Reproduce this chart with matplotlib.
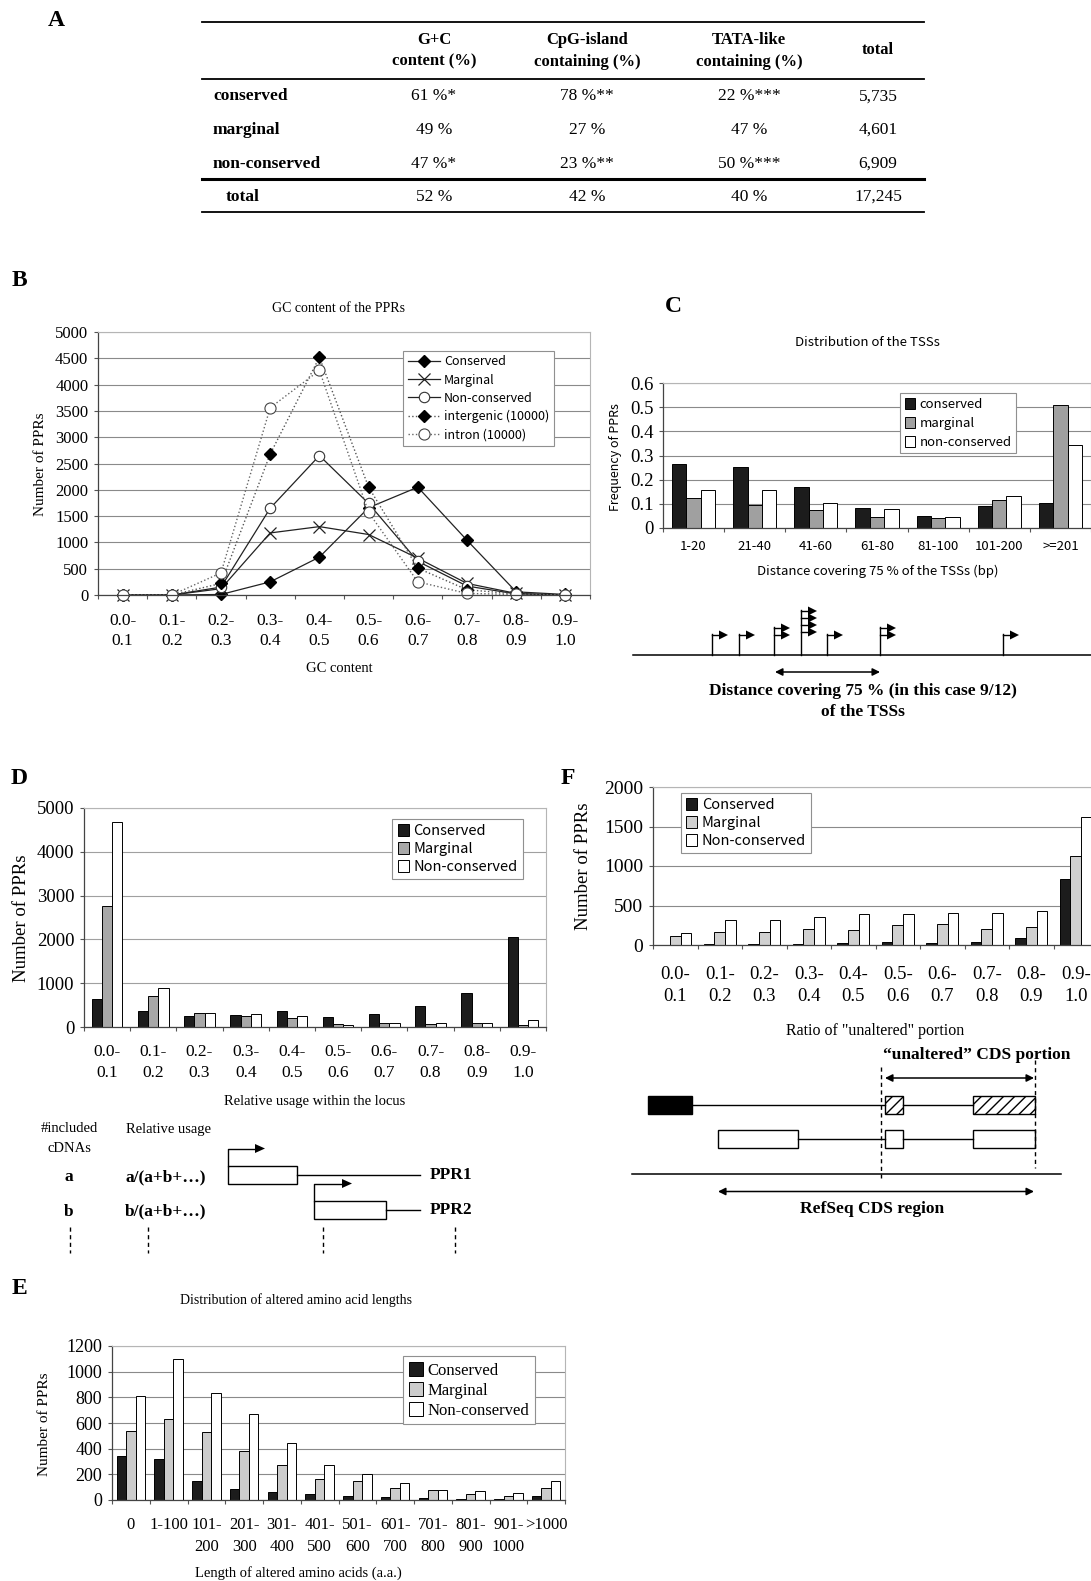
import matplotlib
matplotlib.use("Agg")
import matplotlib.pyplot as plt
from matplotlib.patches import Rectangle, Polygon
import numpy as np

plt.rcParams["hatch.linewidth"] = 1.0

W, H = 1091, 1581
SERIF = ["Liberation Serif", "DejaVu Serif"]
GOTH = ["Noto Sans CJK JP", "DejaVu Sans"]

# ---------------- data ----------------
# A: summary table
tab_header = ["G+C\ncontent (%)", "CpG-island\ncontaining (%)", "TATA-like\ncontaining (%)", "total"]
tab_rows = ["conserved", "marginal", "non-conserved", "total"]
tab_gc = ["61 %*", "49 %", "47 %*", "52 %"]
tab_cpg = ["78 %**", "27 %", "23 %**", "42 %"]
tab_tata = ["22 %***", "47 %", "50 %***", "40 %"]
tab_total = ["5,735", "4,601", "6,909", "17,245"]

# B: GC content
gc_bins = ["0.0-\n0.1", "0.1-\n0.2", "0.2-\n0.3", "0.3-\n0.4", "0.4-\n0.5",
           "0.5-\n0.6", "0.6-\n0.7", "0.7-\n0.8", "0.8-\n0.9", "0.9-\n1.0"]
gc_conserved = [0, 0, 10, 250, 720, 1660, 2050, 1040, 60, 10]
gc_marginal = [0, 0, 120, 1180, 1300, 1150, 700, 220, 30, 0]
gc_nonconserved = [0, 0, 150, 1650, 2650, 1740, 640, 170, 20, 0]
gc_intergenic = [0, 0, 220, 2680, 4520, 2050, 510, 100, 20, 0]
gc_intron = [0, 0, 420, 3560, 4270, 1570, 250, 30, 10, 0]

# C: TSS distribution
tss_bins = ["1-20", "21-40", "41-60", "61-80", "81-100", "101-200", ">=201"]
tss_conserved = [0.265, 0.253, 0.168, 0.083, 0.048, 0.093, 0.105]
tss_marginal = [0.125, 0.097, 0.075, 0.045, 0.043, 0.115, 0.508]
tss_nonconserved = [0.158, 0.158, 0.102, 0.078, 0.046, 0.132, 0.342]

# D: relative usage
ru_bins = gc_bins
ru_conserved = [650, 360, 250, 270, 360, 230, 290, 480, 770, 2060]
ru_marginal = [2760, 700, 310, 250, 200, 70, 80, 60, 80, 40]
ru_nonconserved = [4670, 880, 330, 290, 250, 50, 80, 80, 80, 170]

# F: ratio of unaltered portion
ua_bins = gc_bins
ua_conserved = [0, 10, 10, 10, 30, 40, 30, 40, 90, 830]
ua_marginal = [110, 170, 170, 200, 190, 250, 260, 200, 230, 1130]
ua_nonconserved = [150, 320, 320, 350, 390, 390, 410, 410, 430, 1620]

# E: altered amino acid lengths
aa_bins = ["0", "1-100", "101-\n200", "201-\n300", "301-\n400", "401-\n500", "501-\n600",
           "601-\n700", "701-\n800", "801-\n900", "901-\n1000", ">1000"]
aa_conserved = [340, 320, 150, 85, 65, 45, 30, 25, 15, 8, 8, 35]
aa_marginal = [540, 630, 530, 380, 270, 165, 145, 90, 75, 50, 30, 95]
aa_nonconserved = [810, 1100, 830, 670, 445, 270, 200, 135, 80, 70, 55, 145]

series_names = ["Conserved", "Marginal", "Non-conserved"]

fig = plt.figure(figsize=(W / 100, H / 100), dpi=100)


def add_ax(l, t, r, b):
    return fig.add_axes([l / W, 1 - b / H, (r - l) / W, (b - t) / H])


def frame(ax, cats, ymax, ystep, yfmt, yfont, yfs, xfont, xfs, xpad, lsp=1.4, grid="#8a8a8a"):
    n = len(cats)
    ax.set_xlim(-0.5, n - 0.5)
    ax.set_ylim(0, ymax)
    yt = np.arange(0, ymax + ystep / 2, ystep)
    ax.set_yticks(yt, labels=[yfmt(v) for v in yt], fontfamily=yfont, fontsize=yfs)
    ax.set_xticks(np.arange(n), labels=cats, fontfamily=xfont, fontsize=xfs, linespacing=lsp)
    ax.set_xticks(np.arange(n + 1) - 0.5, minor=True)
    ax.tick_params(axis="x", which="major", length=0, pad=xpad)
    ax.tick_params(axis="x", which="minor", length=3, width=0.8, color="#555555")
    ax.tick_params(axis="y", length=3, width=0.8, pad=4, color="#555555")
    ax.grid(axis="y", color=grid, lw=0.8)
    ax.set_axisbelow(True)
    for s in ("top", "right"):
        ax.spines[s].set_color("#b5b5b5")
        ax.spines[s].set_linewidth(0.8)
    for s in ("left", "bottom"):
        ax.spines[s].set_color("#444444")
        ax.spines[s].set_linewidth(0.9)


def bars(ax, data, colors, width):
    x = np.arange(len(data[0]))
    for i, (vals, c, name) in enumerate(zip(data, colors, series_names)):
        ax.bar(x + (i - 1) * width, vals, width, color=c, edgecolor="black",
               linewidth=0.7, label=name)


def legend(ax, loc, anchor, font, fs, labels=None, **kw):
    h, l = ax.get_legend_handles_labels()
    if labels is not None:
        l = labels
    opts = dict(frameon=True, fancybox=False, edgecolor="#909090", framealpha=1,
                borderpad=0.35, handletextpad=0.3, labelspacing=0.25, borderaxespad=0,
                prop={"family": font, "size": fs})
    opts.update(kw)
    leg = ax.legend(h, l, loc=loc, bbox_to_anchor=anchor, **opts)
    leg.get_frame().set_linewidth(0.8)
    return leg


def fmt_int(v):
    return str(int(round(v)))


def fmt_frac(v):
    return "0" if v == 0 else "%.1f" % v


# ---------------- B ----------------
axB = add_ax(98, 332, 590, 595)
frame(axB, gc_bins, 5000, 500, fmt_int, SERIF, 12, SERIF, 12.5, 13, lsp=1.35)
xb = np.arange(len(gc_bins))
axB.plot(xb, gc_conserved, "-", color="#222222", lw=0.9, marker="D", ms=6,
         mfc="black", mec="black", label="Conserved")
axB.plot(xb, gc_marginal, "-", color="#222222", lw=0.9, marker="x", ms=8,
         mew=0.9, mec="#222222", label="Marginal")
axB.plot(xb, gc_nonconserved, "-", color="#222222", lw=0.9, marker="o", ms=7.5,
         mfc="white", mec="#333333", mew=0.8, label="Non-conserved")
axB.plot(xb, gc_intergenic, ":", color="#555555", lw=1.0, marker="D", ms=6,
         mfc="black", mec="black", label="intergenic (10000)")
axB.plot(xb, gc_intron, ":", color="#666666", lw=1.0, marker="o", ms=8,
         mfc="white", mec="#444444", mew=0.8, label="intron (10000)")
for ln in axB.lines:
    ln.set_clip_on(False)
legend(axB, "upper right", (0.926, 0.928), GOTH, 9, handlelength=2.6, labelspacing=0.42)

# ---------------- C ----------------
axC = add_ax(663, 383, 1091, 528)
frame(axC, tss_bins, 0.6, 0.1, fmt_frac, SERIF, 13.5, GOTH, 9.5, 9)
bars(axC, [tss_conserved, tss_marginal, tss_nonconserved], ["#1c1c1c", "#a0a0a0", "white"], 0.235)
legend(axC, "upper right", (0.825, 0.931), GOTH, 9.5,
       labels=["conserved", "marginal", "non-conserved"], handlelength=0.8, handleheight=0.9,
       labelspacing=0.45)

# ---------------- D ----------------
axD = add_ax(84, 808, 546, 1027)
frame(axD, ru_bins, 5000, 1000, fmt_int, SERIF, 13.5, SERIF, 12.5, 12.5, lsp=1.42, grid="#a0a0a0")
bars(axD, [ru_conserved, ru_marginal, ru_nonconserved], ["#1c1c1c", "#a8a8a8", "white"], 0.22)
legend(axD, "upper right", (0.950, 0.950), GOTH, 10.5, handlelength=0.8, handleheight=0.9)

# ---------------- F ----------------
axF = add_ax(653, 787, 1098, 945)
frame(axF, ua_bins, 2000, 500, fmt_int, SERIF, 14, SERIF, 13.5, 15, lsp=1.38)
bars(axF, [ua_conserved, ua_marginal, ua_nonconserved], ["#1c1c1c", "#d0d0d0", "white"], 0.24)
legend(axF, "upper left", (0.062, 0.962), GOTH, 10.5, handlelength=0.8, handleheight=0.9)

# ---------------- E ----------------
axE = add_ax(112, 1346, 565, 1500)
frame(axE, aa_bins, 1200, 200, fmt_int, SERIF, 13, SERIF, 12, 12.5, lsp=1.5)
bars(axE, [aa_conserved, aa_marginal, aa_nonconserved], ["#1c1c1c", "#cccccc", "white"], 0.25)
legend(axE, "upper right", (0.934, 0.935), SERIF, 12, handlelength=0.8, handleheight=0.9,
       labelspacing=0.2)

# ---------------- overlay: table, texts, schematics ----------------
ov = fig.add_axes([0, 0, 1, 1])
ov.set_xlim(0, W)
ov.set_ylim(H, 0)
ov.axis("off")


def txt(x, y, s, fs, fam=SERIF, bold=False, ha="center", **kw):
    ov.text(x, y, s, fontsize=fs, family=fam, fontweight="bold" if bold else "normal",
            ha=ha, va="center", **kw)


# panel letters
for letter, (lx, ly) in zip("ABCDEF", [(56, 20), (19, 281), (673, 307), (19, 779), (19, 1288), (568, 778)]):
    txt(lx, ly, letter, 17, bold=True)

# A: table
col_x = [434, 587, 749, 878]
row_y = [96.5, 130, 164, 197]
for x, head in zip(col_x, tab_header):
    txt(x, 50.5, head, 12, bold=True, linespacing=1.5)
for i, name in enumerate(tab_rows):
    txt(213 if name != "total" else 226, row_y[i], name, 12.5, bold=True, ha="left")
    for x, col in zip(col_x, [tab_gc, tab_cpg, tab_tata, tab_total]):
        txt(x, row_y[i], col[i], 12.5)
for y, lw in [(22, 1.3), (78.5, 1.3), (179, 2.2), (211.5, 1.3)]:
    ov.plot([202, 924], [y, y], color="black", lw=lw)

# axis titles / labels
txt(339, 309, "GC content of the PPRs", 10)
txt(339, 668, "GC content", 10.5)
txt(40, 464, "Number of PPRs", 11, rotation=90)
txt(867, 342, "Distribution of the TSSs", 9.5, fam=GOTH)
txt(878, 571, "Distance covering 75 % of the TSSs (bp)", 9.5, fam=GOTH)
txt(615, 457, "Frequency of PPRs", 9, fam=GOTH, rotation=90)
txt(315, 1102, "Relative usage within the locus", 10.5)
txt(22, 918, "Number of PPRs", 13.5, rotation=90)
txt(875, 1031, 'Ratio of "unaltered" portion', 11.5)
txt(583, 866, "Number of PPRs", 13.5, rotation=90)
txt(296, 1300, "Distribution of altered amino acid lengths", 10)
txt(298, 1573, "Length of altered amino acids (a.a.)", 10.5)
txt(45, 1424, "Number of PPRs", 11, rotation=90)


def arrow_head(x, y, length=9, half=4.5):
    ov.add_patch(Polygon([[x, y - half], [x, y + half], [x + length, y]], closed=True,
                         color="black", lw=0))


def dbl_arrow(x1, x2, y):
    ov.annotate("", xy=(x2, y), xytext=(x1, y),
                arrowprops=dict(arrowstyle="<|-|>", color="black", lw=1.1,
                                mutation_scale=11, shrinkA=0, shrinkB=0))


# C schematic: TSS flags on a genomic line
base_c = 655
ov.plot([633, W], [base_c, base_c], color="black", lw=1.1)
tss_flags = [(712, [635]), (739, [635]), (774, [628, 635]), (801, [611, 618, 625, 632]),
             (827, [635]), (880, [628, 635]), (1003, [635])]
for fx, ys in tss_flags:
    ov.plot([fx, fx], [base_c, min(ys) - 1], color="black", lw=1)
    for fy in ys:
        ov.plot([fx, fx + 8], [fy, fy], color="black", lw=1)
        arrow_head(fx + 7, fy)
dbl_arrow(775, 880, 672)
txt(863, 691, "Distance covering 75 % (in this case 9/12)", 12.5, bold=True)
txt(863, 712, "of the TSSs", 12.5, bold=True)

# D schematic
txt(69, 1129, "#included", 10.5)
txt(69, 1148, "cDNAs", 10.5)
txt(168, 1129, "Relative usage", 10.5)
txt(69, 1177, "a", 12.5, bold=True)
txt(166, 1177, "a/(a+b+…)", 12.5, bold=True)
txt(69, 1211.5, "b", 12.5, bold=True)
txt(166, 1211.5, "b/(a+b+…)", 12.5, bold=True)
for x0, x1, y0, y1, name, xa, ya in [(227.5, 297, 1166, 1184, "PPR1", 255, 1148.5),
                                     (314, 385.5, 1200.5, 1218.5, "PPR2", 342, 1183.5)]:
    ov.add_patch(Rectangle((x0, y0), x1 - x0, y1 - y0, facecolor="white", edgecolor="black", lw=1))
    ym = (y0 + y1) / 2
    ov.plot([x1, 419.5], [ym, ym], color="black", lw=1)
    ov.plot([x0, x0, xa], [y0, ya, ya], color="black", lw=1)
    arrow_head(xa, ya, length=10, half=4.5)
    txt(430, ym, name, 12.5, bold=True, ha="left")
for dx in [69.5, 148, 323, 454.5]:
    ov.plot([dx, dx], [1227, 1253], color="black", lw=1, ls=(0, (3, 2.5)))

# F schematic
txt(977, 1055, "\u201cunaltered\u201d CDS portion", 12.5, bold=True)
dbl_arrow(885, 1034, 1078)
ov.plot([881, 881], [1067, 1178], color="black", lw=1, ls=(0, (3, 2.5)))
ov.plot([1034.5, 1034.5], [1060, 1168], color="black", lw=1, ls=(0, (3, 2.5)))
ov.add_patch(Rectangle((648, 1095.5), 44, 18, facecolor="black", edgecolor="black", lw=1))
ov.plot([692, 885], [1104.5, 1104.5], color="black", lw=1)
ov.plot([902.5, 972.5], [1104.5, 1104.5], color="black", lw=1)
for hx0, hx1 in [(885, 902.5), (972.5, 1034.5)]:
    ov.add_patch(Rectangle((hx0, 1095.5), hx1 - hx0, 18, facecolor="white", edgecolor="black",
                           lw=1, hatch="///"))
ov.add_patch(Rectangle((718, 1129.5), 79.5, 18, facecolor="white", edgecolor="black", lw=1))
ov.plot([797.5, 885], [1138.5, 1138.5], color="black", lw=1)
ov.plot([902.5, 972.5], [1138.5, 1138.5], color="black", lw=1)
for hx0, hx1 in [(885, 902.5), (972.5, 1034.5)]:
    ov.add_patch(Rectangle((hx0, 1129.5), hx1 - hx0, 18, facecolor="white", edgecolor="black", lw=1))
ov.plot([632, 1061], [1173.5, 1173.5], color="black", lw=1.1)
dbl_arrow(718, 1034, 1191.5)
txt(872, 1209, "RefSeq CDS region", 12.5, bold=True)

fig.savefig("out.png", dpi=100, facecolor="white")
